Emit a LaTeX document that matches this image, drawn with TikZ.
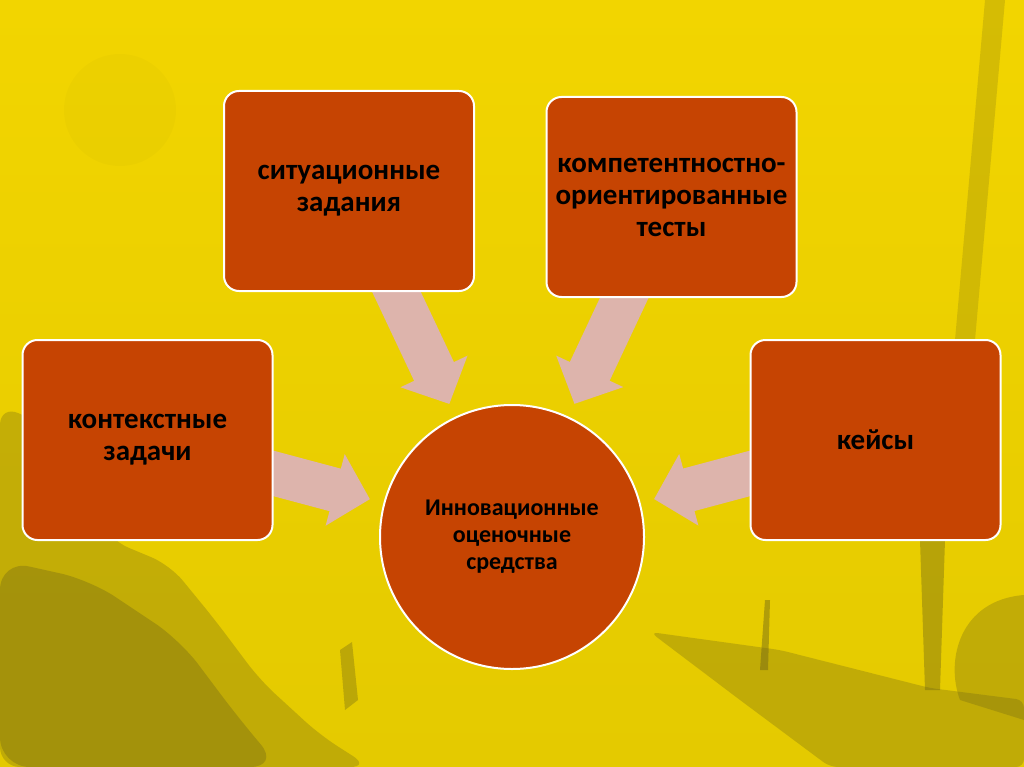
\documentclass[tikz,border=0pt]{standalone}
\usepackage{fontspec}
\setmainfont{Carlito}
\usetikzlibrary{arrows.meta}
\definecolor{boxfill}{RGB}{198,68,2}
\definecolor{arrowpink}{RGB}{221,180,172}
\definecolor{bgtop}{RGB}{242,213,0}
\definecolor{bgbottom}{RGB}{228,202,0}
\definecolor{ink}{RGB}{110,100,22}
\pgfdeclarelayer{back}
\pgfdeclarelayer{arrows}
\pgfsetlayers{back,arrows,main}

\begin{document}
\begin{tikzpicture}[x=1pt, y=-1pt,
  item/.style={draw=white, line width=2pt, fill=boxfill, rounded corners=15pt,
    minimum width=250pt, minimum height=200pt, align=center, text=black,
    font=\bfseries\fontsize{29}{32}\selectfont},
  hub/.style={circle, draw=white, line width=2pt, fill=boxfill, minimum size=264pt,
    align=center, text=black, font=\bfseries\fontsize{24}{27}\selectfont},
  feed/.style={draw=arrowpink, line width=44pt, -{Triangle[width=72pt,length=36pt]},
    shorten <=-25pt, shorten >=14pt}]

% Background
\begin{pgfonlayer}{back}
\shade[top color=bgtop, bottom color=bgbottom] (0,0) rectangle (1024,767);
\fill[ink, opacity=0.03] (120,110) circle (56);
\fill[ink, opacity=0.3, rounded corners=20pt] (0,405) -- (45,425) -- (110,540) -- (170,565)
  -- (215,620) -- (260,680) -- (320,735) -- (370,767) -- (0,767) -- cycle;
\fill[ink, opacity=0.35, rounded corners=30pt] (0,560) -- (90,580) -- (180,640) -- (240,720)
  -- (280,767) -- (0,767) -- cycle;
\fill[ink, opacity=0.35] (340,650) -- (352,642) -- (358,700) -- (345,710) -- cycle;
\fill[ink, opacity=0.3, rounded corners=8pt] (650,632) -- (780,650) -- (930,688) -- (1024,700)
  -- (1024,767) -- (830,767) -- (740,700) -- cycle;
\fill[ink, opacity=0.3] (1024,595) .. controls (960,600) and (945,660) .. (960,700)
  -- (1024,720) -- cycle;
\fill[ink, opacity=0.4] (920,540) -- (945,540) -- (940,690) -- (925,690) -- cycle;
\fill[ink, opacity=0.45] (765,600) -- (770,600) -- (768,670) -- (760,670) -- cycle;
\fill[ink, opacity=0.22] (985,0) -- (1005,0) -- (975,340) -- (955,340) -- cycle;
\end{pgfonlayer}

% Boxes
\node[item] (sit) at (349,191) {ситуационные\\задания};
\node[item] (test) at (671.5,197) {компетентностно-\\ориентированные\\тесты};
\node[item] (ctx) at (147.5,440) {контекстные\\задачи};
\node[item] (case) at (875.5,440) {кейсы};
\node[hub] (inn) at (512,537) {Инновационные\\оценочные\\средства};

% Arrows
\begin{pgfonlayer}{arrows}
\foreach \src in {sit, test, ctx, case}
  \draw[feed] (\src) -- (inn);
\end{pgfonlayer}
\end{tikzpicture}
\end{document}
